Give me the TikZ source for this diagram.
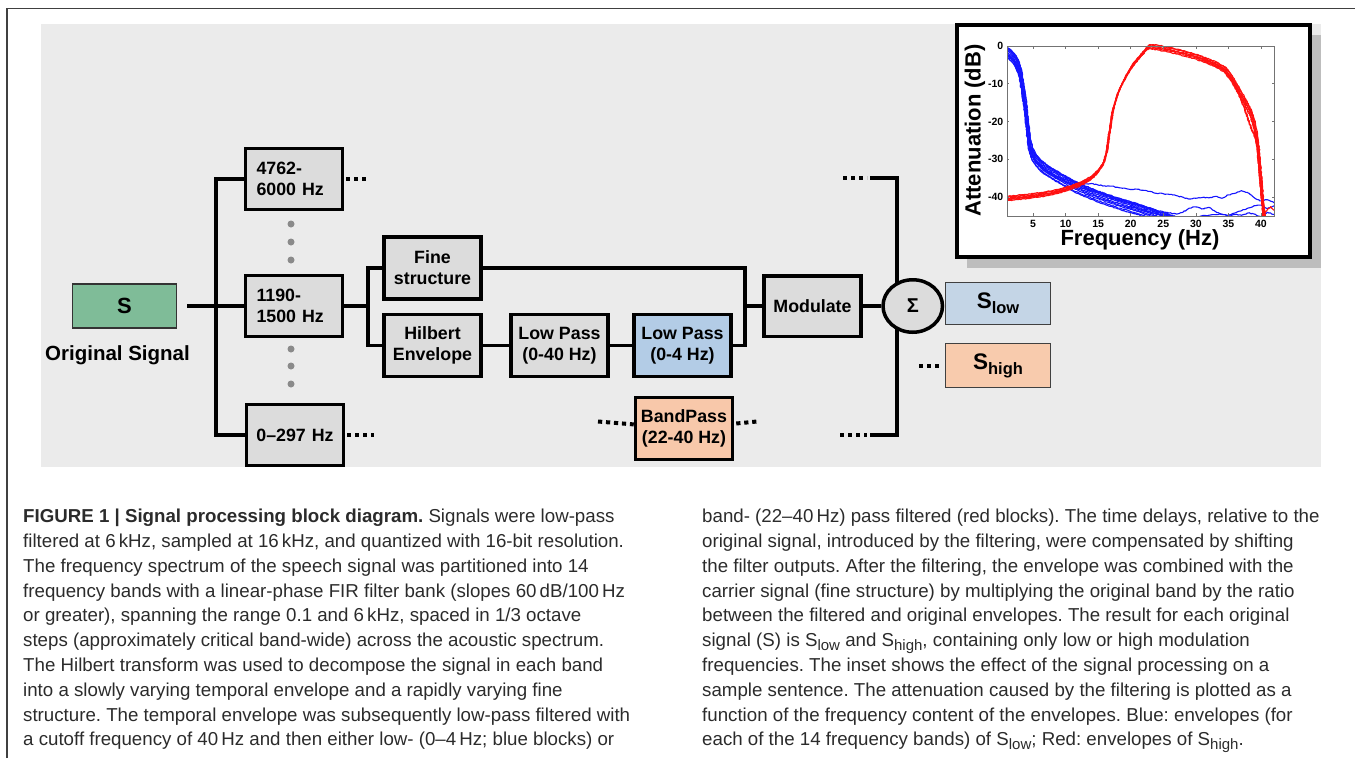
\documentclass[tikz,border=0pt]{standalone}
\usepackage{fontspec}
\setmainfont{Liberation Sans}
\usetikzlibrary{positioning, shapes.geometric, decorations.pathmorphing}

\definecolor{bggray}{HTML}{EBEBEB}
\definecolor{boxgray}{HTML}{DCDCDC}
\definecolor{sgreen}{HTML}{7FBC98}
\definecolor{lpblue}{HTML}{B3CCE6}
\definecolor{slowblue}{HTML}{C4D5E6}
\definecolor{bppeach}{HTML}{F8C8AA}
\definecolor{shighpeach}{HTML}{F8CBAD}
\definecolor{dotgray}{HTML}{8A8A8A}
\definecolor{shadowgray}{HTML}{BDBDBD}
\definecolor{capgray}{HTML}{2B2B2B}
\definecolor{framegray}{HTML}{404040}
\definecolor{plotblue}{HTML}{1414FF}
\definecolor{plotred}{HTML}{FF1010}

\newcommand{\blkfont}{\fontsize{17.8}{21}\selectfont\bfseries}
\newcommand{\capfont}{\fontsize{18.7}{24.8}\selectfont}
\newcommand{\capsub}[1]{\raisebox{-3.5pt}{\fontsize{15}{15}\selectfont #1}}
\newcommand{\outsub}[1]{\raisebox{-5pt}{\fontsize{16.5}{16.5}\selectfont #1}}
\frenchspacing

\tikzset{
  bandbox/.style   = {draw, line width=3.5pt, fill=boxgray, minimum width=97pt,
                      minimum height=61pt, inner sep=0pt, font=\blkfont,
                      text width=75pt, align=left},
  procbox/.style   = {draw, line width=3.5pt, fill=boxgray, minimum width=97pt,
                      minimum height=62pt, inner sep=0pt, font=\blkfont, align=center},
  sumnode/.style   = {ellipse, draw, line width=3.5pt, fill=boxgray, minimum width=59.5pt,
                      minimum height=52.5pt, inner sep=0pt,
                      font=\fontsize{20}{20}\selectfont\bfseries},
  outbox/.style    = {draw=black!75, line width=1.3pt, minimum width=105pt,
                      minimum height=42pt, inner sep=0pt,
                      font=\fontsize{22.5}{22.5}\selectfont\bfseries},
  wire/.style      = {line width=3.5pt},
  dotwire/.style   = {line width=4pt, dash pattern=on 4.2pt off 3.8pt},
  gapdot/.style    = {circle, fill=dotgray, inner sep=0pt, minimum size=7pt},
  axisframe/.style = {draw=black!55, line width=0.7pt},
  ticklab/.style   = {font=\fontsize{10.5}{10.5}\selectfont\bfseries, inner sep=0pt},
  bluecurve/.style = {draw=plotblue, line width=1.1pt, line join=round, decorate,
                      decoration={random steps, segment length=1.5pt, amplitude=0.45pt}},
  redcurve/.style  = {draw=plotred, line width=1.1pt, line join=round, decorate,
                      decoration={random steps, segment length=1.5pt, amplitude=0.45pt}},
  captext/.style   = {font=\capfont, text=capgray, align=left, inner sep=0pt,
                      anchor=north west},
}

\begin{document}
\begin{tikzpicture}[x=1pt, y=-1pt]
    \useasboundingbox (0,0) rectangle (1355,758);
    \pgfmathsetseed{7}

    % --- page frame and panel -----------------------------------------------
    \draw[framegray, line width=1.3pt] (7,758) -- (7,8.5) -- (1355,8.5);
    \fill[bggray] (41,24) rectangle (1321,467);

    % --- source and filter bank ---------------------------------------------
    \node[draw=black!80, line width=1.2pt, fill=sgreen, minimum width=104pt,
          minimum height=44pt, font=\fontsize{22}{22}\selectfont\bfseries] (s)
      at (124.5,306) {S};
    \node[font=\fontsize{20.5}{20.5}\selectfont\bfseries, inner sep=0pt,
          below=17pt of s, xshift=-7pt] (slabel) {Original Signal};

    \node[bandbox] (band1) at (294,179) {4762-\\6000 Hz};
    \node[bandbox] (band2) at (294,306) {1190-\\1500 Hz};
    \node[bandbox, text width=92pt, align=center] (band3) at (295,435) {0–297 Hz};
    \foreach \y in {224,242,260,349,366,384}
      \node[gapdot] (gap\y) at (291,\y) {};

    % --- band processing ----------------------------------------------------
    \node[procbox] (fine) at (432.5,268) {Fine\\structure};
    \node[procbox, below=12pt of fine] (hilbert) {Hilbert\\Envelope};
    \node[procbox, right=26.5pt of hilbert] (lp1) {Low Pass\\(0-40 Hz)};
    \node[procbox, right=22.5pt of lp1, fill=lpblue] (lp2) {Low Pass\\(0-4 Hz)};
    \node[procbox, below=17.5pt of lp2, xshift=1.5pt, fill=bppeach] (bp)
      {BandPass\\(22-40 Hz)};
    \node[procbox, minimum height=60.5pt] (mod) at (812.5,306) {Modulate};

    % --- summation and outputs ----------------------------------------------
    \coordinate (busT0) at (870,178);
    \coordinate (busT) at (897,178);
    \coordinate (busB) at (897,435);
    \coordinate (busB0) at (870,435);
    \coordinate (busTdots) at (843,178);
    \coordinate (busBdots) at (840,435);
    \draw[wire] (busT0) -- (busT) -- (busB) -- (busB0);
    \node[sumnode, right=18.5pt of mod] (sum) {Σ};
    \node[outbox, fill=slowblue] (slow) at (998,303.5) {S\outsub{low}};
    \node[outbox, fill=shighpeach, minimum height=44pt] (shigh) at (998,365.5)
      {S\outsub{high}};

    % --- connectors ---------------------------------------------------------
    \coordinate (fork) at (216,306);
    \coordinate (split) at (368,306);
    \coordinate (join) at (745,306);
    \draw[wire, shorten <=10pt] (s) -- (band2);
    \draw[wire] (band1) -| (fork) |- (band3);
    \draw[wire] (band2) -- (split);
    \draw[wire] (fine) -| (split) |- (hilbert);
    \draw[wire] (hilbert) -- (lp1);
    \draw[wire] (lp1) -- (lp2);
    \draw[wire] (fine) -| (join) |- (lp2);
    \draw[wire] (join) -- (mod);
    \draw[wire] (mod) -- (sum);

    % --- continuation dots --------------------------------------------------
    \coordinate (b1dots) at (370,179);
    \coordinate (b3dots) at (374,435);
    \coordinate (bpin) at (598,421.5);
    \coordinate (bpout) at (757,421.5);
    \coordinate (shdots) at (919,365.5);
    \draw[dotwire, shorten <=2pt] (band1) -- (b1dots);
    \draw[dotwire, shorten <=2pt] (band3) -- (b3dots);
    \draw[dotwire] (bpin) -- (bp);
    \draw[dotwire, shorten <=2pt] (bp) -- (bpout);
    \draw[dotwire, shorten >=3pt] (busTdots) -- (busT0);
    \draw[dotwire, shorten >=3pt] (busBdots) -- (busB0);
    \draw[dotwire, shorten >=4pt] (shdots) -- (shigh);

    % --- inset plot ---------------------------------------------------------
    \fill[shadowgray] (967,35) rectangle (1321,268);
    \draw[line width=3.5pt, fill=white] (957,25) rectangle (1310,257);
    \begin{scope}[shift={(1000.49,46)}, x=6.512pt, y=3.778pt]
      \begin{scope}
        \clip (1,-45) rectangle (42,0.4);
        \foreach \dx/\dy in {0/0, 0.1/0.7, -0.1/-0.6, 0.15/1.2, -0.15/-1.1,
                             0.05/0.4, -0.05/-0.3, 0.2/0.9, 0/-1.5, -0.2/1.5}
          \draw[bluecurve, shift={(\dx,\dy)}] plot coordinates {(0.9,-1.5) (1.5,-2.3)
            (2,-3.2) (2.5,-4.6) (3,-7) (3.4,-11) (3.8,-16) (4.1,-21) (4.4,-25.5)
            (4.8,-28.3) (5.3,-29.8) (6,-31.3) (7,-32.7) (8,-33.8) (9,-34.8)
            (10,-35.8) (11,-36.8) (12,-37.6) (13,-38.4) (14,-39.1) (15,-39.8)
            (16,-40.4) (17,-41) (18,-41.6) (19,-42.1) (20,-42.6) (21,-43.1)
            (22,-43.7) (23,-44.3) (24,-45) (25,-45.6) (27,-46.5)};
        \draw[bluecurve] plot coordinates {(0.9,-2) (2,-3.6) (3,-7.5) (3.8,-16.5)
          (4.4,-26) (5.3,-30) (7,-33) (9,-34.8) (10,-35.4) (11,-35.9) (12,-36.2)
          (13,-36.5) (14,-36.4) (15,-36.8) (16,-37) (17,-37.1) (18,-37.4)
          (19,-37.6) (20,-38) (21,-37.9) (22,-38.2) (23,-38.5) (24,-39) (25,-39.1)
          (26,-39.3) (27,-39.6) (28,-40) (29,-40.5) (30,-40.3) (31,-40.1)
          (32,-40.2) (33,-39.8) (34,-40.3) (35,-39.4) (36,-39) (37,-38.3)
          (38,-38.9) (39,-40.2) (40,-41) (41,-40.7) (42,-41.5)};
        \draw[bluecurve] plot coordinates {(0.9,-2.5) (2,-4) (3,-8) (3.8,-17)
          (4.4,-26.5) (5.3,-30.3) (7,-33.3) (9,-35.3) (11,-36.6) (13,-37.8)
          (15,-38.8) (17,-39.9) (19,-41) (21,-42) (23,-43) (25,-43.9) (27,-44.5)
          (28,-44) (29,-42.9) (30,-42.6) (31,-43.1) (32,-42.7) (33,-43.8)
          (34,-44.6) (35,-44.9) (36,-44.2) (37,-43.6) (38,-42.9) (39,-42.3)
          (40,-42.1) (41,-43) (42,-42.3)};
        \draw[bluecurve] plot coordinates {(20,-42.5) (22,-43.5) (24,-44.4)
          (26,-45) (28,-45.5) (30,-45.2) (32,-44.8) (34,-44.5) (35,-45)
          (36,-44.6) (37,-44.8) (38,-44.2) (39,-44.5) (40,-45.2) (41,-44)
          (42,-44.6)};
        \foreach \dx/\dy in {0/0, 0.1/0.3, -0.1/-0.4, 0.15/0.5, -0.12/-0.7, 0.05/-0.2}
          \draw[redcurve, shift={(\dx,\dy)}] plot coordinates {(0.9,-40.3) (2,-40.1)
            (3,-39.9) (4,-39.8) (5,-39.5) (6,-39.3) (7,-39) (8,-38.7) (9,-38.3)
            (10,-37.8) (11,-37.2) (12,-36.6) (13,-35.8) (14,-34.7) (15,-33)
            (15.8,-31) (16.3,-28) (16.7,-23) (17.2,-17.5) (17.8,-13.5)
            (18.5,-10.5) (19.5,-7.2) (20.5,-4.5) (21.5,-2.5) (22.6,-0.3) (23,0)
            (26,-0.9) (30,-2.7) (33,-4.7) (34.5,-6.2) (35.5,-8.5) (36.5,-11.5)
            (37.5,-14.5) (38.5,-18) (39,-21) (39.5,-26) (39.8,-32) (40.2,-40)
            (40.5,-45.5)};
        \foreach \dy in {0,-0.5}
          \draw[redcurve, shift={(0,\dy)}] plot coordinates {(30,-2.7) (33,-4.7)
            (34.5,-6.2) (35.5,-8.5) (36.5,-12) (37.5,-16.5) (38.5,-21.5)
            (39.3,-24.5) (39.6,-30) (40,-38) (40.4,-45.5)};
        \draw[redcurve] plot coordinates {(40.5,-44.5) (41,-43.2) (41.5,-42.5)
          (42,-43.5)};
      \end{scope}
      \draw[axisframe] (1,-45) rectangle (42,0);
      \foreach \f in {5,10,...,40} {
        \draw[axisframe] (\f,-45) -- (\f,-44.2) (\f,0) -- (\f,-0.8);
        \node[ticklab] (xtick\f) at (\f,-47.2) {\f};
      }
      \foreach \d [count=\i] in {0,-10,-20,-30,-40} {
        \draw[axisframe] (1,\d) -- (1.35,\d) (42,\d) -- (41.65,\d);
        \node[ticklab, anchor=east] (ytick\i) at (0.45,\d) {\d};
      }
    \end{scope}
    \node[font=\fontsize{22}{22}\selectfont\bfseries, rotate=90, inner sep=0pt]
      (ylab) at (975,130.5) {Attenuation (dB)};
    \node[font=\fontsize{22}{22}\selectfont\bfseries, inner sep=0pt]
      (xlab) at (1140,240) {Frequency (Hz)};

    % --- caption ------------------------------------------------------------
    \node[captext] (capleft) at (23,509)
      {\textbf{FIGURE 1 | Signal processing block diagram.} Signals were low-pass\\
       filtered at 6\,kHz, sampled at 16\,kHz, and quantized with 16-bit resolution.\\
       The frequency spectrum of the speech signal was partitioned into 14\\
       frequency bands with a linear-phase FIR filter bank (slopes 60\,dB/100\,Hz\\
       or greater), spanning the range 0.1 and 6\,kHz, spaced in 1/3 octave\\
       steps (approximately critical band-wide) across the acoustic spectrum.\\
       The Hilbert transform was used to decompose the signal in each band\\
       into a slowly varying temporal envelope and a rapidly varying fine\\
       structure. The temporal envelope was subsequently low-pass filtered with\\
       a cutoff frequency of 40\,Hz and then either low- (0–4\,Hz; blue blocks) or};
    \node[captext] (capright) at (702,509)
      {band- (22–40\,Hz) pass filtered (red blocks). The time delays, relative to the\\
       original signal, introduced by the filtering, were compensated by shifting\\
       the filter outputs. After the filtering, the envelope was combined with the\\
       carrier signal (fine structure) by multiplying the original band by the ratio\\
       between the filtered and original envelopes. The result for each original\\
       signal (S) is S\capsub{low} and S\capsub{high}, containing only low or high modulation\\
       frequencies. The inset shows the effect of the signal processing on a\\
       sample sentence. The attenuation caused by the filtering is plotted as a\\
       function of the frequency content of the envelopes. Blue: envelopes (for\\
       each of the 14 frequency bands) of S\capsub{low}; Red: envelopes of S\capsub{high}.};
\end{tikzpicture}
\end{document}
